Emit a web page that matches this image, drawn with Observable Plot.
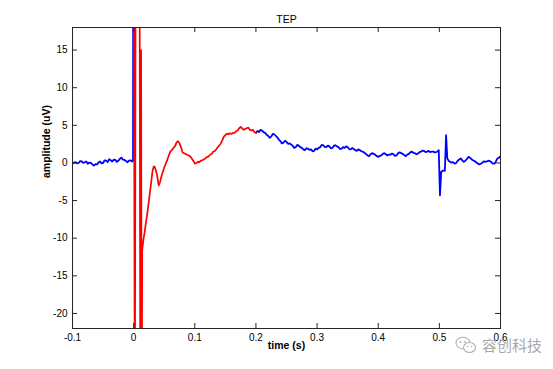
<!DOCTYPE html>
<html>
<head>
<meta charset="utf-8">
<script src="https://cdn.jsdelivr.net/npm/d3@7"></script>
<script src="https://cdn.jsdelivr.net/npm/@observablehq/plot@0.6"></script>
<style>
  html, body { margin: 0; padding: 0; background: #fff; }
  #wrap { position: relative; width: 553px; height: 369px; overflow: hidden; }
  #wm { position: absolute; left: 455px; top: 334px; display: flex; align-items: center; gap: 5px;
        font-family: "Noto Sans CJK SC", sans-serif; font-size: 15px; color: #a8a8a8; }
</style>
</head>
<body>
<div id="wrap"></div>
<script>
// ---- data ----
const xTicks = [-0.1, 0, 0.1, 0.2, 0.3, 0.4, 0.5, 0.6];
const yTicks = [-20, -15, -10, -5, 0, 5, 10, 15];

// blue, pre-stimulus: [time (s), amplitude (uV)]
const preSamples = [
  [-0.1000,-0.1],[-0.0975,0.05],[-0.0950,0.1],[-0.0925,-0.05],[-0.0900,0.0],[-0.0875,0.25],[-0.0850,0.2],[-0.0825,0.0],
  [-0.0800,0.1],[-0.0775,0.2],[-0.0750,-0.1],[-0.0725,0.05],[-0.0700,0.0],[-0.0675,-0.2],[-0.0650,-0.35],[-0.0625,-0.15],
  [-0.0600,-0.2],[-0.0575,0.05],[-0.0550,0.2],[-0.0525,-0.05],[-0.0500,0.0],[-0.0475,0.35],[-0.0450,0.3],[-0.0425,0.1],
  [-0.0400,0.5],[-0.0375,0.35],[-0.0350,0.2],[-0.0325,0.45],[-0.0300,0.4],[-0.0275,0.15],[-0.0250,0.3],[-0.0225,0.55],
  [-0.0200,0.7],[-0.0175,0.45],[-0.0150,0.4],[-0.0125,0.25],[-0.0100,0.1],[-0.0075,0.3],[-0.0050,0.35],[-0.0025,0.2],
  [-0.0010,0.3],[-0.0005,40]
];

// red, 0 - 0.2 s
const redSamples = [
  [0,40],[0.002,-40],[0.0035,40],[0.0095,40],[0.011,-40],[0.0122,15],[0.0132,-40],[0.014,-11.6],[0.016,-10.2],[0.018,-9.2],
  [0.020,-8.0],[0.0225,-6.6],[0.025,-5.0],[0.028,-3.0],[0.031,-1.0],[0.033,-0.45],[0.035,-0.6],[0.038,-1.5],[0.041,-3.0],
  [0.043,-2.6],[0.046,-1.6],
  [0.0500,-0.6],[0.0525,-0.1],[0.0550,0.4],[0.0575,1.0],[0.0600,1.5],[0.0625,1.7],[0.0650,2.0],[0.0675,2.2],[0.0700,2.7],
  [0.0725,2.9],[0.0750,2.6],[0.0775,2.1],[0.0800,1.4],[0.0825,1.3],[0.0850,1.2],[0.0875,1.1],[0.0900,1.0],[0.0925,0.9],
  [0.0950,0.6],[0.0975,0.3],[0.1000,-0.1],[0.1025,0.0],[0.1050,0.15],[0.1075,0.1],[0.1100,0.3],[0.1125,0.35],[0.1150,0.5],
  [0.1175,0.6],[0.1200,0.8],[0.1225,0.85],[0.1250,1.1],[0.1275,1.2],[0.1300,1.5],[0.1325,1.55],[0.1350,1.8],[0.1375,2.1],
  [0.1400,2.3],[0.1425,2.6],[0.1450,3.0],[0.1475,3.5],[0.1500,3.7],[0.1525,3.9],[0.1550,3.8],[0.1575,3.95],[0.1600,3.85],
  [0.1625,4.0],[0.1650,4.0],[0.1675,4.2],[0.1700,4.3],[0.1725,4.6],[0.1750,4.8],[0.1775,4.6],[0.1800,4.4],[0.1825,4.5],
  [0.1850,4.6],[0.1875,4.7],[0.1900,4.4],[0.1925,4.3],[0.1950,4.4],[0.1975,4.1],[0.2000,4.0]
];

// blue, 0.2 - 0.6 s
const postSamples = [
  [0.2000,4.0],[0.2025,4.25],[0.2050,4.1],[0.2075,4.4],[0.2100,4.3],[0.2125,4.1],[0.2150,4.0],[0.2175,3.75],[0.2200,3.6],
  [0.2225,3.35],[0.2250,3.5],[0.2275,3.85],[0.2300,3.8],[0.2325,3.6],[0.2350,3.4],[0.2375,3.1],[0.2400,2.9],[0.2425,2.6],
  [0.2450,2.7],[0.2475,2.95],[0.2500,2.8],[0.2525,2.55],[0.2550,2.6],[0.2575,2.45],[0.2600,2.3],[0.2625,2.0],[0.2650,2.1],
  [0.2675,2.4],[0.2700,2.3],[0.2725,2.1],[0.2750,2.0],[0.2775,1.8],[0.2800,1.7],[0.2825,1.95],[0.2850,1.9],[0.2875,1.75],
  [0.2900,1.8],[0.2925,1.55],[0.2950,1.6],[0.2975,1.9],[0.3000,1.8],[0.3025,2.0],[0.3050,2.1],[0.3075,2.4],[0.3100,2.35],
  [0.3125,2.15],[0.3150,2.1],[0.3175,2.3],[0.3200,2.2],[0.3225,1.95],[0.3250,2.0],[0.3275,2.3],[0.3300,2.35],[0.3325,2.2],
  [0.3350,2.1],[0.3375,1.85],[0.3400,1.9],[0.3425,2.1],[0.3450,2.0],[0.3475,2.2],[0.3500,2.1],[0.3525,1.85],[0.3550,1.8],
  [0.3575,2.0],[0.3600,1.85],[0.3625,1.7],[0.3650,1.6],[0.3675,1.8],[0.3700,1.7],[0.3725,1.55],[0.3750,1.5],[0.3775,1.35],
  [0.3800,1.2],[0.3825,1.0],[0.3850,0.9],[0.3875,1.15],[0.3900,1.3],[0.3925,1.2],[0.3950,1.1],[0.3975,0.9],[0.4000,0.8],
  [0.4025,0.95],[0.4050,1.0],[0.4075,1.2],[0.4100,1.3],[0.4125,1.15],[0.4150,1.0],[0.4175,1.1],[0.4200,1.1],[0.4225,1.25],
  [0.4250,1.15],[0.4275,0.95],[0.4300,1.0],[0.4325,1.3],[0.4350,1.4],[0.4375,1.3],[0.4400,1.2],[0.4425,1.05],[0.4450,0.9],
  [0.4475,1.1],[0.4500,1.2],[0.4525,1.4],[0.4550,1.5],[0.4575,1.35],[0.4600,1.3],[0.4625,1.15],[0.4650,1.25],[0.4675,1.45],
  [0.4700,1.5],[0.4725,1.65],[0.4750,1.6],[0.4775,1.45],[0.4800,1.5],[0.4825,1.6],[0.4850,1.45],[0.4875,1.5],[0.4900,1.5],
  [0.4925,1.4],[0.4950,1.45],[0.4975,1.55],[0.4990,1.7],
  [0.5010,-4.3],[0.5030,-1.2],[0.5060,-1.0],[0.5090,-1.05],[0.5110,3.7],[0.5130,0.6],
  [0.5150,0.3],[0.5175,0.15],[0.5200,0.05],[0.5225,0.1],[0.5250,-0.1],[0.5275,0.0],[0.5300,0.3],[0.5325,0.45],[0.5350,0.6],
  [0.5375,0.35],[0.5400,0.15],[0.5425,0.3],[0.5450,0.5],[0.5475,0.8],[0.5500,0.7],[0.5525,0.5],[0.5550,0.35],[0.5575,0.25],
  [0.5600,0.1],[0.5625,-0.05],[0.5650,-0.2],[0.5675,-0.1],[0.5700,0.0],[0.5725,0.2],[0.5750,0.15],[0.5775,0.2],[0.5800,0.3],
  [0.5825,0.25],[0.5850,0.1],[0.5875,-0.1],[0.5900,-0.1],[0.5925,0.2],[0.5950,0.6],[0.5975,0.7],[0.6000,0.9]
];

// ---- build tables ----
const blue = [
  ...preSamples.map(([t, v]) => ({t, v, seg: "pre"})),
  ...postSamples.map(([t, v]) => ({t, v, seg: "post"}))
];
const red = redSamples.map(([t, v]) => ({t, v}));

const W = 553, H = 369;
const mL = 72, mR = 53, mT = 27, mB = 41;
const innerW = W - mL - mR, innerH = H - mT - mB;
const tickLen = 5;
const font = "'Liberation Sans', Arial, Helvetica, sans-serif";
const fmt = d => String(+d.toFixed(1));

const chart = Plot.plot({
  width: W, height: H,
  marginLeft: mL, marginRight: mR, marginTop: mT, marginBottom: mB,
  style: {fontFamily: font, fontSize: "10px", color: "#000", background: "#fff"},
  x: {domain: [-0.1, 0.6], ticks: xTicks, tickFormat: fmt, tickSize: 0, tickPadding: 6, label: null},
  y: {domain: [-22, 18], ticks: yTicks, tickFormat: fmt, tickSize: 0, tickPadding: 6, label: null},
  marks: [
    Plot.axisX(xTicks, {tickSize: 0, tickPadding: 5, tickFormat: fmt, fontSize: 10, label: null}),
    Plot.axisY(yTicks, {tickSize: 0, tickPadding: 5, tickFormat: fmt, fontSize: 10, label: null}),
    Plot.line(blue, {x: "t", y: "v", z: "seg", stroke: "#0000ff", strokeWidth: 1.8, clip: true, curve: "linear"}),
    Plot.line(red, {x: "t", y: "v", stroke: "#ff0000", strokeWidth: 1.7, clip: true, curve: "linear"}),
    // inward ticks on all four sides (MATLAB box style)
    Plot.tickX(xTicks, {x: d => d, insetTop: innerH - tickLen, stroke: "#262626", strokeWidth: 1}),
    Plot.tickX(xTicks, {x: d => d, insetBottom: innerH - tickLen, stroke: "#262626", strokeWidth: 1}),
    Plot.tickY(yTicks, {y: d => d, insetRight: innerW - tickLen, stroke: "#262626", strokeWidth: 1}),
    Plot.tickY(yTicks, {y: d => d, insetLeft: innerW - tickLen, stroke: "#262626", strokeWidth: 1}),
    Plot.frame({stroke: "#262626", strokeWidth: 1}),
    Plot.text(["TEP"], {frameAnchor: "top", dy: -12, fontSize: 10.5, fill: "#000"}),
    Plot.text(["time (s)"], {frameAnchor: "bottom", dy: 20, fontSize: 10.5, fontWeight: "bold", fill: "#000"}),
    Plot.text(["amplitude (uV)"], {frameAnchor: "left", dx: -26, rotate: -90, fontSize: 10.5, fontWeight: "bold", fill: "#000"})
  ]
});

const wrap = document.getElementById("wrap");
wrap.appendChild(chart);

const wm = document.createElement("div");
wm.id = "wm";
wm.innerHTML = `<svg width="22" height="18" viewBox="0 0 22 18">
  <ellipse cx="8" cy="7" rx="7" ry="5.8" fill="none" stroke="#b0b0b0" stroke-width="1.1"/>
  <ellipse cx="14.5" cy="11.5" rx="6" ry="5" fill="#fff" stroke="#b0b0b0" stroke-width="1.1"/>
  <circle cx="5.5" cy="6" r="0.9" fill="#b0b0b0"/><circle cx="10" cy="6" r="0.9" fill="#b0b0b0"/>
  <circle cx="12.5" cy="10.5" r="0.8" fill="#b0b0b0"/><circle cx="16.5" cy="10.5" r="0.8" fill="#b0b0b0"/>
</svg><span>容创科技</span>`;
wrap.appendChild(wm);
</script>
</body>
</html>
